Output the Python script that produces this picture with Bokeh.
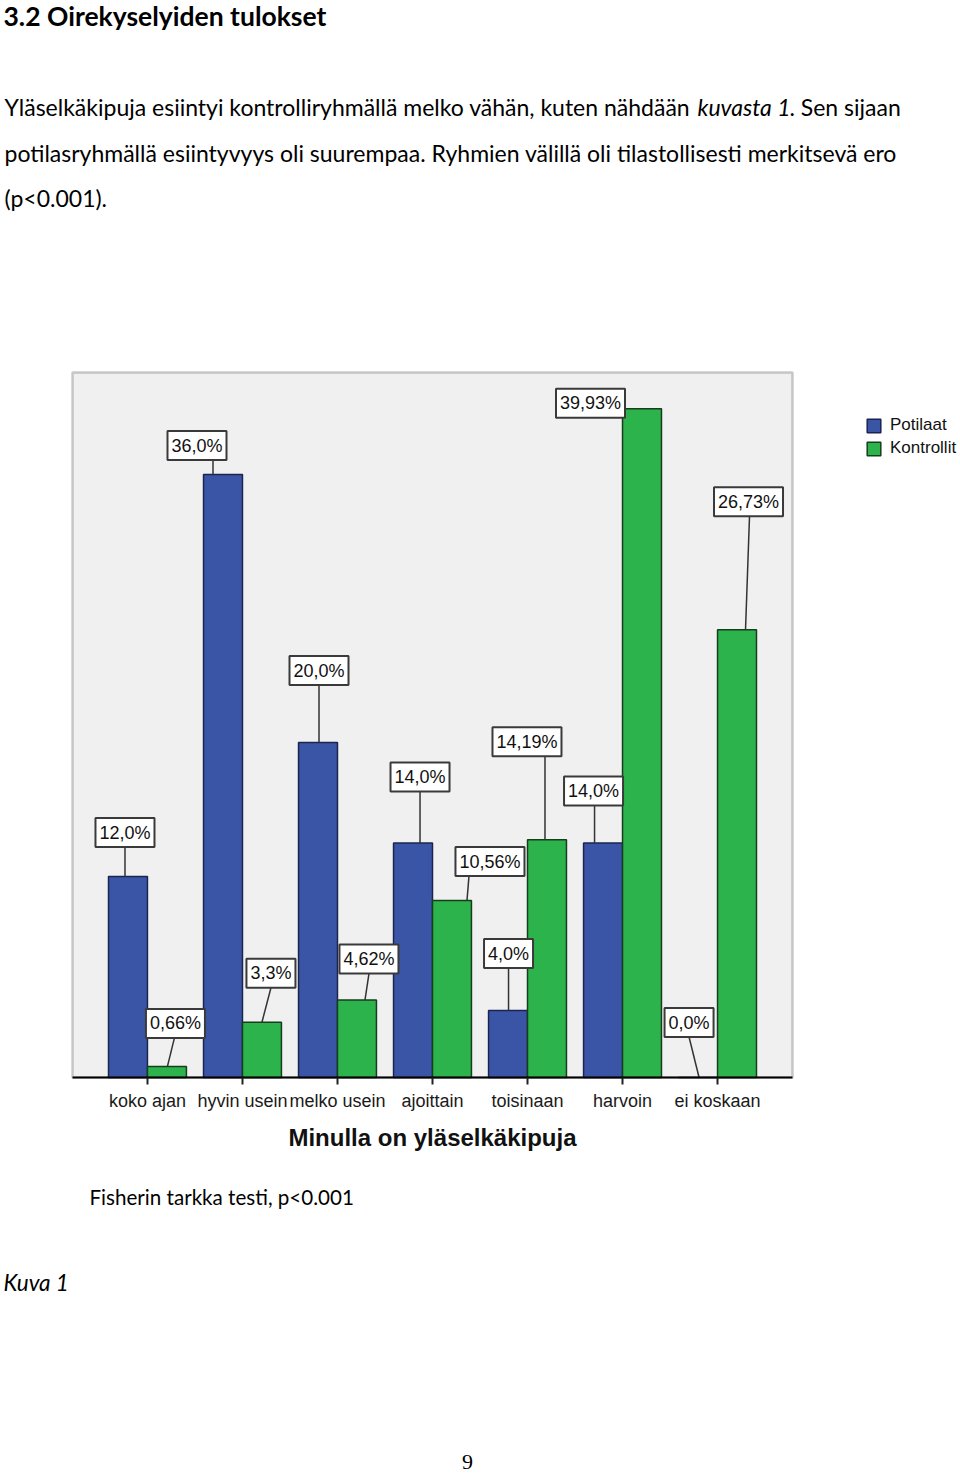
import math
from bokeh.plotting import figure
from bokeh.models import (Range1d, FixedTicker, Label, Legend, LegendItem,
                          ColumnDataSource, LinearAxis, BoxAnnotation)
from bokeh.core.properties import value
from bokeh.embed import file_html
from bokeh.resources import INLINE

# ---------------- data ----------------
categories = ["koko ajan", "hyvin usein", "melko usein", "ajoittain",
              "toisinaan", "harvoin", "ei koskaan"]
potilaat = [12.0, 36.0, 20.0, 14.0, 4.0, 14.0, 0.0]
kontrollit = [0.66, 3.3, 4.62, 10.56, 14.19, 39.93, 26.73]
series_names = ["Potilaat", "Kontrollit"]
axis_title = "Minulla on yläselkäkipuja"

heading = "3.2 Oirekyselyiden tulokset"
body1a = "Yläselkäkipuja esiintyi kontrolliryhmällä melko vähän, kuten nähdään"
body1b = "kuvasta 1"
body1c = ". Sen sijaan"
body2 = "potilasryhmällä esiintyvyys oli suurempaa. Ryhmien välillä oli tilastollisesti merkitsevä ero"
body3 = "(p<0.001)."
caption = "Fisherin tarkka testi, p<0.001"
figure_label = "Kuva 1"
page_number = "9"

# ---------------- layout / style ----------------
W, H = 960, 1473
# chart plot area on the page (pixels)
CL, CR, CT, CB = 72, 792, 372, 1077
x_start, x_end = -0.789, 6.789
y_start, y_end = 0.0, 42.09
PXX = (CR - CL) / (x_end - x_start)
PXY = (CB - CT) / (y_end - y_start)
TEXT_SHIFT = 9   # baseline correction for screen-unit labels

BLUE = "#3b55a6"
GREEN = "#2db34b"
BAR_W = 0.41
DODGE = 0.205

# data label box offsets (pixels, relative to bar top centre)
pot_box_dx = [-3, -26, 1, 7, 0.5, -9.5, -9]
pot_box_dy = [44, 29, 72, 66, 57, 52, 55]
pot_line_top_dx = [-3, -10, 1, 7, 0.5, -8.5, -9]
pot_line_bot_dx = [-3, -10, 1, 7, 0.5, -8.5, 1]
kon_box_dx = [8.5, 9, 12, 38, -20, -51.5, 11.5]
kon_box_dy = [43, 49, 41, 39, 98, 5.5, 128]
kon_line_top_dx = [7.5, 9, 12, 17, -2, None, 12.5]
kon_line_bot_dx = [0.5, 0, 8, 15, -2, None, 8.5]
BOX_H = 29

# whole page is the frame; the chart's scales are extended to the page edges
p = figure(width=W, height=H, output_backend="svg", toolbar_location=None,
           x_range=Range1d(x_start - CL / PXX, x_end + (W - CR) / PXX),
           y_range=Range1d(y_start - (H - CB) / PXY, y_end + CT / PXY),
           x_axis_location=None, y_axis_location=None, min_border=0)
p.outline_line_color = None
p.background_fill_color = "white"
p.border_fill_color = "white"
p.xgrid.visible = False
p.ygrid.visible = False

# chart plot area
p.add_layout(BoxAnnotation(left=x_start, right=x_end, bottom=y_start,
                           top=y_end, fill_color="#f0f0f0", fill_alpha=1,
                           line_color="#555555", line_width=2.5,
                           level="underlay"))

xa = LinearAxis(fixed_location=0, bounds=(x_start, x_end))
xa.ticker = FixedTicker(ticks=list(range(len(categories))))
xa.major_label_overrides = {i: c for i, c in enumerate(categories)}
xa.major_label_text_font = "Liberation Sans"
xa.major_label_text_font_size = "18px"
xa.major_label_text_color = "#1a1a1a"
xa.major_label_standoff = 6
xa.axis_line_color = "black"
xa.axis_line_width = 2
xa.major_tick_line_color = "#222222"
xa.major_tick_line_width = 2
xa.major_tick_out = 7
xa.major_tick_in = 0
xa.minor_tick_line_color = None
p.add_layout(xa, "below")

n = len(categories)
src_p = ColumnDataSource(dict(x=[i - DODGE for i in range(n)], top=potilaat))
src_k = ColumnDataSource(dict(x=[i + DODGE for i in range(n)], top=kontrollit))
r_p = p.vbar(x="x", top="top", width=BAR_W, bottom=0, source=src_p,
             fill_color=BLUE, line_color="#1b2450", line_width=1.5)
r_k = p.vbar(x="x", top="top", width=BAR_W, bottom=0, source=src_k,
             fill_color=GREEN, line_color="#173d1f", line_width=1.5)


def fmt(v, dec):
    s = f"{v:.{dec}f}"
    if dec == 2:
        s = s.rstrip("0")
    return s.replace(".", ",") + "%"


bx, by, bw, lx0, ly0, lx1, ly1, texts = [], [], [], [], [], [], [], []
for vals, sign, dec, bdx, bdy, ltd, lbd in [
        (potilaat, -1, 1, pot_box_dx, pot_box_dy, pot_line_top_dx, pot_line_bot_dx),
        (kontrollit, 1, 2, kon_box_dx, kon_box_dy, kon_line_top_dx, kon_line_bot_dx)]:
    for i, v in enumerate(vals):
        cx = i + sign * DODGE
        t = fmt(v, dec)
        texts.append(t)
        bx.append(cx + bdx[i] / PXX)
        by.append(v + bdy[i] / PXY)
        bw.append(10 * len(t) + 9)
        if ltd[i] is None:
            lx0.append(math.nan); ly0.append(math.nan)
            lx1.append(math.nan); ly1.append(math.nan)
        else:
            lx0.append(cx + ltd[i] / PXX)
            ly0.append(v + (bdy[i] - BOX_H / 2) / PXY)
            lx1.append(cx + lbd[i] / PXX)
            ly1.append(v)

lab_src = ColumnDataSource(dict(x=bx, y=by, w=bw, text=texts,
                                x0=lx0, y0=ly0, x1=lx1, y1=ly1))
p.segment(x0="x0", y0="y0", x1="x1", y1="y1", source=lab_src,
          line_color="#333333", line_width=1.5)
p.rect(x="x", y="y", width="w", height=BOX_H, width_units="screen",
       height_units="screen", source=lab_src, fill_color="white",
       line_color="#3a3a3a", line_width=2)
p.text(x="x", y="y", text="text", source=lab_src, text_align="center",
       text_baseline="middle", text_font=value("Liberation Sans"),
       text_font_size="18px", text_color="#111111")

legend = Legend(items=[LegendItem(label=series_names[0], renderers=[r_p]),
                       LegendItem(label=series_names[1], renderers=[r_k])],
                location=(865, H - 458), orientation="vertical",
                background_fill_alpha=0, border_line_alpha=0, padding=0,
                margin=0, spacing=3, label_standoff=8, glyph_width=17,
                glyph_height=17, label_height=17,
                label_text_font="Liberation Sans", label_text_font_size="17px",
                label_text_color="#111111")
p.add_layout(legend)


def doc_label(text, X, Y, font="Lato", size="23px", style="normal",
              align="left", color="black"):
    p.add_layout(Label(x=X, y=H - (Y - TEXT_SHIFT), x_units="screen",
                       y_units="screen", text=text, text_font=font,
                       text_font_size=size, text_font_style=style,
                       text_align=align, text_baseline="alphabetic",
                       text_color=color))


doc_label(axis_title, (CL + CR) / 2, 1146, font="Liberation Sans",
          size="24px", style="bold", align="center", color="#111111")
doc_label(heading, 3, 24, size="26.5px", style="bold")
doc_label(body1a, 4, 115)
doc_label(body1b, 697, 115, style="italic")
doc_label(body1c, 789, 115)
doc_label(body2, 4, 161)
doc_label(body3, 4, 206)
doc_label(caption, 89, 1205, size="20.6px")
doc_label(figure_label, 3, 1291, size="22.5px", style="italic")
doc_label(page_number, 467, 1470, font="Liberation Serif", size="22px",
          align="center")

open("out.html", "w").write(file_html(p, INLINE))
